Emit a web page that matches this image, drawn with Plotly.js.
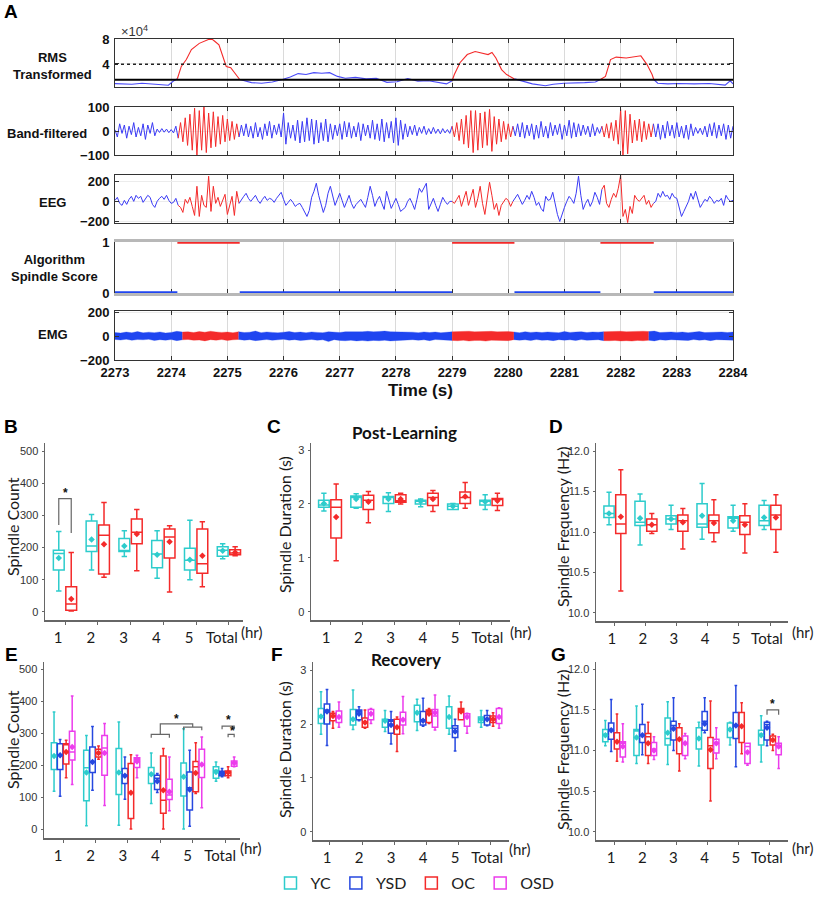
<!DOCTYPE html>
<html><head><meta charset="utf-8">
<script src="https://cdn.plot.ly/plotly-3.0.1.min.js"></script>
<style>html,body{margin:0;padding:0;background:#fff}#chart{width:818px;height:900px}</style>
</head><body><div id="chart"></div>
<script>
// ================= PANEL A DATA =================
const timeTicks = [2273,2274,2275,2276,2277,2278,2279,2280,2281,2282,2283,2284];
const spindleStart = [2274.11, 2279.00, 2281.64];
const spindleEnd   = [2275.22, 2280.11, 2282.59];

// RMS transformed (x10^4)
const rmsTime = [2273.00,2273.30,2273.48,2273.76,2273.95,2274.04,2274.11,2274.18,2274.27,2274.36,2274.50,2274.64,2274.71,2274.78,2274.85,2274.92,2274.98,2275.06,2275.15,2275.22,
 2275.34,2275.43,2275.61,2275.80,2275.98,2276.12,2276.26,2276.40,2276.54,2276.68,2276.82,2276.96,2277.10,2277.28,2277.47,2277.65,2277.84,2278.02,2278.21,2278.39,2278.58,2278.76,2278.90,2279.00,
 2279.04,2279.14,2279.27,2279.41,2279.55,2279.64,2279.71,2279.78,2279.88,2279.97,2280.11,
 2280.25,2280.43,2280.66,2280.80,2280.99,2281.17,2281.36,2281.55,2281.64,
 2281.73,2281.82,2281.92,2282.10,2282.24,2282.36,2282.47,2282.56,2282.59,
 2282.66,2282.84,2283.03,2283.31,2283.58,2283.86,2283.95,2284.00];
const rmsValue = [0.84,0.74,0.89,0.68,0.58,1.26,1.63,3.6,4.7,6.3,7.3,7.85,8.1,7.6,7.05,5.2,3.6,3.4,2.3,1.5,
 1.2,1.0,0.9,1.1,1.5,1.9,2.45,2.3,2.6,2.5,2.6,2.0,1.7,1.85,1.6,1.7,1.05,1.15,1.65,1.25,1.3,1.05,0.8,1.3,
 2.3,4.2,5.5,6.0,5.75,5.5,5.85,4.95,3.1,2.3,1.6,
 1.2,0.8,0.5,0.75,0.9,0.9,1.0,1.1,1.5,
 2.0,4.7,5.1,4.95,5.1,5.3,3.9,2.3,1.5,
 0.9,0.8,0.85,0.8,0.85,0.6,1.3,0.8];
const rmsThresholdUpper = 3.95;
const rmsThresholdLower = 1.45;

// Band-filtered signal (uV), sampled every 1/24 s
const bandStart = 2273, bandStep = 1/24;
const bandValues = [
 5,-25,30,-10,25,-30,20,-15,35,-25,15,-20,30,-35,25,-10,35,-20,8,-6,10,-5,8,-7,6,-8,
 20,-30,35,-45,55,-60,70,-80,95,-100,85,-80,100,-90,75,-70,80,-65,60,-55,65,-45,50,-40,40,-35,30,-25,
 25,-20,30,-25,20,-30,35,-25,15,-35,30,-20,40,-30,25,-15,30,-25,
 75,-55,35,-30,25,-40,45,-50,40,-45,55,-40,50,-55,45,-50,35,-40,50,-45,30,-35,
 25,-20,30,-35,40,-25,35,-30,20,-25,35,-40,30,-20,25,-30,45,-35,30,-40,
 50,-45,35,-30,40,-50,55,-60,45,-35,30,-25,20,-15,25,-20,15,-10,20,-15,10,-12,15,-10,8,-12,10,-8,6,-10,
 20,-25,35,-40,50,-55,65,-70,85,-90,85,-80,75,-70,80,-60,90,-85,60,-55,50,-45,40,-35,30,-25,20,
 -20,30,-25,35,-30,25,-20,30,-35,25,-30,40,-25,20,-30,35,-20,25,-15,30,-35,25,-20,45,-30,35,-25,30,-20,25,-15,20,-25,30,-20,15,-10,
 20,-25,30,-30,35,-40,45,-55,90,-100,85,-95,70,-50,45,-40,50,-45,40,-35,30,-25,30,
 -25,30,-35,25,-30,40,-20,25,-30,35,-25,20,-30,25,-35,30,-20,15,-10,12,-15,20,-25,30,-20,35,-30,25,-20,30,-35,25,-30,20];

// Raw EEG (uV), sampled every 1/24 s
const eegStart = 2273, eegStep = 1/24;
const eegValues = [
 10,40,-20,-40,10,-30,20,50,0,60,30,50,-10,20,60,40,-30,-60,0,30,50,20,60,10,-20,
 -10,30,-40,-60,-110,20,-20,40,-50,-140,150,-150,60,-40,-60,250,-100,150,-20,40,-50,10,70,-130,-40,50,-140,100,-20,
 20,50,80,30,0,30,60,10,-20,20, 50,10,30,20,-10,30,60,90,20,-40, -10,20,-10,-50,-30,-20,-60,-100,-150,-90,
 40,100,180,60,-30,-110,-40,80,150,60, -40,20,80,10,-60,0,60,-20,-70,-30, 0,20,-20,-60,40,150,60,-50,10,50,
 -20,-80,100,20,-70,-20,30,-30,-100,-80, -60,0,30,-20,-80,20,130,90,140,180, -80,-20,30,-40,-100,-30,40,0,-30,0,
 0,-20,20,60,-50,20,100,-40,40,120,-60,30,150,-20,-130,60,190,60,-80,-20,-140,-40,0,30,10,-50,0,
 30,70,20,-30,10,60,20,100,40,-40,-10,-70,-100,50,10,20,90,-20,-130,-200,-120,-60,0,50,20,-20,80,250,60,-80,-20,20,-50,0,90,40,-30,
 120,160,-20,-60,20,80,40,130,260,-150,-80,-210,-50,-120,60,20,0,30,60,-30,10,-60,-20,
 0,80,40,100,50,60,20,80,40,30,-60,-150,-100,-50,0,80,20,100,30,-60,-20,20,0,50,20,-20,10,0,30,-40,60,20,0,10];

// EMG envelope (uV), every 0.1 s
const emgStart = 2273, emgStep = 0.1;
const emgUpper = [30,26,34,28,38,27,33,29,35,26, 31,40,34,36,30,38,33,41,35,31, 34,28,37,30,33,42,29,35,31,27,
 33,38,30,34,28,35,31,29,37,33, 30,37,36,41,37,40,36,39,42,37, 36,39,35,33,29,35,30,34,28,33,
 36,39,37,41,36,38,37,40,36,39, 38,35,28,37,31,34,30,35,33,29, 38,31,34,37,30,35,33,37,39,36,
 40,37,39,36,41,38,42,30,33,35, 31,34,29,33,38,30,33,31,35,30, 34];
const emgLower = [-28,-33,-26,-35,-29,-31,-27,-37,-30,-34, -29,-38,-31,-28,-35,-33,-40,-30,-34,-29,
 -37,-31,-28,-34,-30,-38,-33,-29,-35,-31, -27,-34,-30,-37,-33,-28,-35,-31,-46,-30,
 -36,-39,-35,-40,-37,-42,-36,-39,-35,-40, -38,-36,-33,-30,-35,-31,-38,-29,-34,-33,
 -36,-39,-35,-41,-37,-36,-42,-35,-39,-36, -38,-30,-34,-31,-37,-29,-35,-33,-38,-30,
 -34,-31,-37,-29,-35,-33,-30,-38,-39,-36, -41,-38,-42,-36,-39,-35,-40,-31,-34,-30,
 -35,-33,-37,-29,-34,-31,-38,-30,-35,-33, -34];

// ================= BOX PLOT DATA =================
const hourLabels = ['1','2','3','4','5','Total'];

// B: Spindle count, post-learning
const countPostYC = {lower:[65,130,172,105,100,165], q1:[130,188,188,137,130,173], median:[182,205,190,180,161,192], q3:[192,283,228,222,198,203], upper:[250,303,252,252,285,212], mean:[168,225,205,178,162,190]};
const countPostOC = {lower:[3,108,128,62,78,175], q1:[5,118,212,168,120,178], median:[25,238,248,233,150,183], q3:[78,270,289,258,258,193], upper:[185,340,318,268,280,203], mean:[40,210,242,218,175,185]};
// C: Spindle duration, post-learning
const durPostYC = {lower:[1.87,1.92,1.86,1.95,1.9,1.9], q1:[1.94,1.94,2.01,2.0,1.9,1.98], median:[1.98,2.12,2.12,2.05,1.96,2.06], q3:[2.07,2.15,2.14,2.07,2.0,2.07], upper:[2.2,2.19,2.21,2.09,2.01,2.17], mean:[2.01,2.09,2.09,2.05,1.96,2.04]};
const durPostOC = {lower:[0.95,1.65,2.0,1.86,1.92,1.88], q1:[1.37,1.9,2.03,1.97,2.01,1.97], median:[1.94,2.07,2.06,2.12,2.12,2.09], q3:[2.08,2.16,2.17,2.2,2.22,2.1], upper:[2.37,2.23,2.2,2.25,2.4,2.2], mean:[1.76,2.04,2.09,2.09,2.14,2.06]};
// D: Spindle frequency, post-learning
const freqPostYC = {lower:[11.09,10.84,11.03,10.91,11.01,11.03], q1:[11.18,11.08,11.1,11.06,11.05,11.08], median:[11.23,11.12,11.16,11.1,11.17,11.14], q3:[11.32,11.38,11.2,11.35,11.19,11.33], upper:[11.49,11.47,11.33,11.6,11.33,11.39], mean:[11.23,11.17,11.16,11.2,11.14,11.18]};
const freqPostOC = {lower:[10.27,10.98,10.79,10.88,10.74,10.75], q1:[10.98,11.01,11.01,10.99,10.97,11.03], median:[11.1,11.09,11.14,11.14,11.12,11.21], q3:[11.46,11.16,11.21,11.21,11.2,11.33], upper:[11.77,11.23,11.29,11.4,11.35,11.46], mean:[11.19,11.09,11.12,11.11,11.09,11.18]};
// E: Spindle count, recovery
const countRecYC  = {lower:[119,11,13,81,1,150], q1:[187,89,109,143,104,159], median:[229,192,177,172,164,184], q3:[270,247,252,193,207,195], upper:[366,293,335,238,314,210], mean:[229,177,177,172,164,179]};
const countRecYSD = {lower:[103,122,94,115,10,164], q1:[187,177,143,124,60,167], median:[233,212,169,159,130,177], q3:[267,257,190,169,179,181], upper:[280,321,226,174,247,190], mean:[231,210,167,150,124,174]};
const countRecOC  = {lower:[161,219,1,1,112,161], q1:[204,226,34,50,117,167], median:[264,238,114,91,195,177], q3:[267,250,205,229,212,182], upper:[278,260,233,252,270,195], mean:[241,238,114,122,176,177]};
const countRecOSD = {lower:[140,74,161,58,67,195], q1:[216,169,193,93,162,197], median:[241,254,219,107,200,205], q3:[306,293,223,156,250,213], upper:[416,330,231,226,288,226], mean:[257,238,212,117,202,207]};
// F: Spindle duration, recovery
const durRecYC  = {lower:[1.81,1.9,1.86,1.88,1.81,1.94], q1:[2.01,1.98,1.94,2.04,1.92,2.03], median:[2.14,2.09,2.06,2.21,2.13,2.09], q3:[2.29,2.27,2.09,2.35,2.32,2.13], upper:[2.6,2.63,2.25,2.46,2.52,2.25], mean:[2.14,2.09,2.06,2.21,2.13,2.09]};
const durRecYSD = {lower:[1.6,2.06,1.63,1.96,1.5,1.97], q1:[2.0,2.08,1.83,1.98,1.75,1.98], median:[2.26,2.23,2.05,2.08,1.92,2.09], q3:[2.37,2.26,2.08,2.23,1.97,2.16], upper:[2.64,2.32,2.23,2.48,2.09,2.25], mean:[2.23,2.19,1.98,2.06,1.86,2.09]};
const durRecOC  = {lower:[1.92,1.92,1.49,2.01,2.08,1.96], q1:[2.06,1.94,1.81,2.03,2.08,2.03], median:[2.15,2.03,1.94,2.23,2.27,2.09], q3:[2.2,2.11,2.09,2.26,2.29,2.15], upper:[2.23,2.26,2.13,2.29,2.41,2.21], mean:[2.15,2.03,1.94,2.19,2.23,2.09]};
const durRecOSD = {lower:[1.94,2.01,1.82,1.89,1.83,1.92], q1:[2.03,2.08,1.98,1.94,1.96,2.01], median:[2.13,2.2,2.08,2.15,2.13,2.13], q3:[2.24,2.27,2.22,2.27,2.19,2.29], upper:[2.41,2.29,2.51,2.54,2.2,2.3], mean:[2.13,2.19,2.08,2.21,2.13,2.13]};
// G: Spindle frequency, recovery
const freqRecYC  = {lower:[11.06,10.84,10.83,10.81,11.07,10.86], q1:[11.11,10.94,11.07,11.02,11.16,11.07], median:[11.2,11.24,11.15,11.15,11.26,11.2], q3:[11.26,11.26,11.4,11.28,11.34,11.25], upper:[11.37,11.55,11.6,11.35,11.35,11.43], mean:[11.19,11.16,11.22,11.15,11.26,11.19]};
const freqRecYSD = {lower:[10.99,10.95,11.0,11.22,10.8,11.06], q1:[11.14,11.1,11.13,11.25,11.15,11.13], median:[11.26,11.19,11.31,11.36,11.31,11.32], q3:[11.34,11.32,11.36,11.48,11.47,11.35], upper:[11.63,11.57,11.65,11.65,11.8,11.36], mean:[11.25,11.19,11.27,11.33,11.31,11.28]};
const freqRecOC  = {lower:[10.87,10.84,10.75,10.38,10.96,11.0], q1:[11.02,10.94,10.96,10.78,11.1,11.07], median:[11.11,11.17,11.14,11.06,11.3,11.13], q3:[11.22,11.21,11.28,11.16,11.47,11.18], upper:[11.45,11.35,11.33,11.61,11.59,11.2], mean:[11.11,11.09,11.14,11.01,11.3,11.13]};
const freqRecOSD = {lower:[10.86,10.89,10.9,10.9,10.82,10.78], q1:[10.92,10.94,10.94,10.97,10.84,10.95], median:[11.09,11.02,11.09,11.09,11.05,11.06], q3:[11.11,11.1,11.18,11.14,11.09,11.09], upper:[11.33,11.17,11.21,11.28,11.09,11.17], mean:[11.05,11.0,11.09,11.09,10.98,11.05]};

// ================= BUILD =================
const W = 818, H = 900;
const fx = p => p / W;
const fy = p => 1 - p / H;
const dom = (top, bottom) => [1 - bottom / H, 1 - top / H];
const RED = '#f42a2a', BLUE = '#3a3af5', BLUE2 = '#1f45f0';
const groupColors = {YC:'#2dcccc', YSD:'#2648e0', OC:'#f42a2a', OSD:'#ec3cec'};
const A_FONT = 'Liberation Sans, Arial, sans-serif';
const traces = [];

const inSpindle = t => spindleStart.some((s, k) => t >= s - 1e-6 && t <= spindleEnd[k] + 1e-6);
function segments(n, timeAt) {
  const segs = []; let cur = null;
  for (let i = 0; i < n; i++) {
    const red = inSpindle(timeAt(i));
    if (!cur || cur.red !== red) {
      if (cur && red) cur.end = i;
      const start = (cur && !red) ? i - 1 : i;
      cur = {red, start, end: i};
      segs.push(cur);
    } else cur.end = i;
  }
  return segs;
}
function addSignal(times, values, xa, ya, width, blue) {
  segments(values.length, i => times[i]).forEach(s => traces.push({
    type:'scatter', mode:'lines', x: times.slice(s.start, s.end + 1), y: values.slice(s.start, s.end + 1),
    xaxis:xa, yaxis:ya, line:{color: s.red ? RED : blue, width}, showlegend:false, hoverinfo:'skip'}));
}
const bandTime = bandValues.map((_, i) => bandStart + i * bandStep);
const eegTime = eegValues.map((_, i) => eegStart + i * eegStep);
const emgTime = emgUpper.map((_, i) => emgStart + i * emgStep);

addSignal(rmsTime, rmsValue, 'x', 'y', 1.1, '#4a4af8');
addSignal(bandTime, bandValues, 'x2', 'y2', 1, BLUE);
addSignal(eegTime, eegValues, 'x3', 'y3', 1, BLUE);

// algorithm score
const offX = [], offY = [], onX = [], onY = [];
let prevEnd = timeTicks[0];
spindleStart.forEach((s, k) => {
  offX.push(prevEnd, s, null); offY.push(0, 0, null);
  onX.push(s, spindleEnd[k], null); onY.push(1, 1, null);
  prevEnd = spindleEnd[k];
});
offX.push(prevEnd, timeTicks[timeTicks.length - 1]); offY.push(0, 0);
traces.push({type:'scatter', mode:'lines', x:offX, y:offY, xaxis:'x4', yaxis:'y4', line:{color:BLUE2, width:3.5}, showlegend:false, hoverinfo:'skip', cliponaxis:false});
traces.push({type:'scatter', mode:'lines', x:onX, y:onY, xaxis:'x4', yaxis:'y4', line:{color:RED, width:3.5}, showlegend:false, hoverinfo:'skip', cliponaxis:false});

// EMG band
segments(emgUpper.length, i => emgTime[i]).forEach(s => {
  const xs = emgTime.slice(s.start, s.end + 1);
  const up = emgUpper.slice(s.start, s.end + 1);
  const lo = emgLower.slice(s.start, s.end + 1);
  const c = s.red ? RED : BLUE2;
  traces.push({type:'scatter', mode:'lines', x: xs.concat(xs.slice().reverse()), y: up.concat(lo.slice().reverse()),
    fill:'toself', fillcolor:c, line:{color:c, width:0.3}, xaxis:'x5', yaxis:'y5', showlegend:false, hoverinfo:'skip'});
});

// box panels
function offsets(n) { return n === 2 ? [-0.19, 0.19] : [-0.28, -0.093, 0.093, 0.28]; }
function addBoxes(stats, groups, xa, ya, legend) {
  const offs = offsets(groups.length);
  const bw = groups.length === 2 ? 0.33 : 0.17;
  groups.forEach((g, gi) => {
    const s = stats[gi];
    const pos = hourLabels.map((_, k) => k + 1 + offs[gi]);
    traces.push({type:'box', x:pos, q1:s.q1, median:s.median, q3:s.q3, lowerfence:s.lower, upperfence:s.upper,
      width:bw, boxpoints:false, line:{color:groupColors[g], width:1.5}, fillcolor:'rgba(255,255,255,0)',
      name:g, legendgroup:g, showlegend:legend, xaxis:xa, yaxis:ya, hoverinfo:'skip'});
    traces.push({type:'scatter', mode:'markers', x:pos, y:s.mean, marker:{symbol:'diamond', size:5, color:groupColors[g]},
      xaxis:xa, yaxis:ya, showlegend:false, hoverinfo:'skip'});
  });
}
addBoxes([countPostYC, countPostOC], ['YC','OC'], 'x6', 'y6', false);
addBoxes([durPostYC, durPostOC], ['YC','OC'], 'x7', 'y7', false);
addBoxes([freqPostYC, freqPostOC], ['YC','OC'], 'x8', 'y8', false);
addBoxes([countRecYC, countRecYSD, countRecOC, countRecOSD], ['YC','YSD','OC','OSD'], 'x9', 'y9', true);
addBoxes([durRecYC, durRecYSD, durRecOC, durRecOSD], ['YC','YSD','OC','OSD'], 'x10', 'y10', false);
addBoxes([freqRecYC, freqRecYSD, freqRecOC, freqRecOSD], ['YC','YSD','OC','OSD'], 'x11', 'y11', false);

// ---------- axes ----------
function aX(anchor, labels) {
  return {domain:[fx(115), fx(733)], range:[timeTicks[0], timeTicks[timeTicks.length - 1]], type:'linear', tickvals:timeTicks,
    showgrid:true, gridcolor:'#dadada', gridwidth:1, ticks:'inside', ticklen:4, tickcolor:'#333', showline:true, mirror:'ticks',
    linecolor:'#333', linewidth:1, zeroline:false, showticklabels:labels, anchor,
    tickfont:{family:A_FONT, size:13, color:'#111', weight:'bold'}, fixedrange:true};
}
function aY(top, bottom, range, tickvals, anchor) {
  return {domain:dom(top, bottom), range, tickvals, ticks:'inside', ticklen:4, tickcolor:'#333', showline:true, mirror:'ticks',
    linecolor:'#333', linewidth:1, showgrid:true, gridcolor:'#ececec', zeroline:false, anchor, ticklabelstandoff:2,
    tickfont:{family:A_FONT, size:13, color:'#111', weight:'bold'}, fixedrange:true};
}
function catX(l, r, range, anchor, shift) {
  return {domain:[fx(l), fx(r)], range, type:'linear', tickvals:[1,2,3,4,5,6], ticktext:hourLabels, ticks:'outside', ticklen:3,
    tickcolor:'#666', showline:true, linecolor:'#666', linewidth:1.5, showgrid:false, zeroline:false,
    tickfont:{family:'Lato', size:15, color:'#1a1a1a'}, ticklabelshift:shift, anchor, fixedrange:true};
}
function valY(top, bottom, range, tickvals, ticktext, anchor) {
  const ax = {domain:dom(top, bottom), range, tickvals, ticks:'outside', ticklen:2, tickcolor:'#666', showline:true,
    linecolor:'#666', linewidth:1.5, showgrid:false, zeroline:false, anchor, ticklabelstandoff:1,
    tickfont:{family:'Liberation Sans', size:11, color:'#333'}, fixedrange:true};
  if (ticktext) ax.ticktext = ticktext;
  return ax;
}
const countTicks = [0,100,200,300,400,500];
const durTicks = [0,1,2,3];
const freqTicks = [10,10.5,11,11.5,12];
const freqText = ['10.0','10.5','11.0','11.5','12.0'];

const layout = {
  width:W, height:H, margin:{l:0, r:0, t:0, b:0}, paper_bgcolor:'#fff', plot_bgcolor:'#fff',
  font:{family:'Liberation Sans', color:'#222'}, boxmode:'overlay', hovermode:false,
  showlegend:true,
  legend:{orientation:'h', x:fx(415), xanchor:'center', y:fy(883), yanchor:'middle',
    font:{family:'Lato', size:16, color:'#222'}, itemwidth:30, bgcolor:'rgba(0,0,0,0)'},
  xaxis: aX('y', false), yaxis: aY(39, 87, [0.3, 8], [4, 8], 'x'),
  xaxis2: aX('y2', false), yaxis2: aY(107, 155, [-100, 100], [-100, 0, 100], 'x2'),
  xaxis3: aX('y3', false), yaxis3: aY(175, 223, [-215, 262], [-200, 0, 200], 'x3'),
  xaxis4: Object.assign(aX('y4', false), {linecolor:'#b8b8b8', linewidth:3, layer:'below traces', mirror:true}),
  yaxis4: aY(242, 293, [0, 1], [0, 1], 'x4'),
  xaxis5: aX('y5', true), yaxis5: aY(311, 360, [-200, 210], [-200, 0, 200], 'x5'),
  xaxis6: catX(45, 243, [0.39, 6.43], 'y6', -7), yaxis6: valY(443, 620, [-25, 525], countTicks, null, 'x6'),
  xaxis7: catX(311, 510, [0.41, 6.58], 'y7', -4), yaxis7: valY(443, 620, [-0.15, 3.13], durTicks, null, 'x7'),
  xaxis8: catX(596, 788, [0.39, 6.58], 'y8', -3), yaxis8: valY(443, 621, [9.9, 12.1], freqTicks, freqText, 'x8'),
  xaxis9: catX(44, 240, [0.41, 6.46], 'y9', -5), yaxis9: valY(662, 838, [-27, 522], countTicks, null, 'x9'),
  xaxis10: catX(313, 509, [0.47, 6.59], 'y10', -3), yaxis10: valY(662, 840, [-0.15, 3.15], durTicks, null, 'x10'),
  xaxis11: catX(596, 788, [0.42, 6.58], 'y11', -3), yaxis11: valY(662, 840, [9.9, 12.09], freqTicks, freqText, 'x11'),
  shapes: [], annotations: []
};

// RMS thresholds
layout.shapes.push({type:'line', xref:'x', yref:'y', x0:timeTicks[0], x1:timeTicks[timeTicks.length-1], y0:rmsThresholdUpper, y1:rmsThresholdUpper, line:{color:'#222', width:1.3, dash:'dot'}});
layout.shapes.push({type:'line', xref:'x', yref:'y', x0:timeTicks[0], x1:timeTicks[timeTicks.length-1], y0:rmsThresholdLower, y1:rmsThresholdLower, line:{color:'#000', width:2}});

// annotations helper
function txt(text, x, y, font, extra) {
  layout.annotations.push(Object.assign({text, xref:'paper', yref:'paper', x:fx(x), y:fy(y), xanchor:'center', yanchor:'middle', showarrow:false, font}, extra || {}));
}
const letterFont = {family:'Liberation Sans', size:19, color:'#000', weight:'bold'};
[['A',11,12],['B',11,426],['C',274,426],['D',556,426],['E',11,654],['F',277,654],['G',558,654]].forEach(a => txt(a[0], a[1], a[2], letterFont));
const aLab = {family:A_FONT, size:13, color:'#111', weight:'bold'};
txt('RMS<br>Transformed', 53, 66, aLab);
txt('Band-filtered', 47, 134, aLab);
txt('EEG', 52, 203, aLab);
txt('Algorithm<br>Spindle Score', 54, 268, aLab);
txt('EMG', 53, 334, aLab);
txt('×10<sup>4</sup>', 134, 31, {family:'Liberation Sans', size:13, color:'#333'});
txt('Time (s)', 420, 391, {family:A_FONT, size:17, color:'#111', weight:'bold'});
const titleFont = {family:'Lato', size:17, color:'#111', weight:'bold'};
txt('Post-Learning', 404, 432, titleFont);
txt('Recovery', 406, 659, titleFont);
const yTitleFont = {family:'Lato', size:16, color:'#1a1a1a'};
txt('Spindle Count', 12, 527, yTitleFont, {textangle:-90});
txt('Spindle Duration (s)', 284, 525, yTitleFont, {textangle:-90});
txt('Spindle Frequency (Hz)', 562, 527, yTitleFont, {textangle:-90});
txt('Spindle Count', 12, 740, yTitleFont, {textangle:-90});
txt('Spindle Duration (s)', 284, 750, yTitleFont, {textangle:-90});
txt('Spindle Frequency (Hz)', 562, 750, yTitleFont, {textangle:-90});
const hrFont = {family:'Lato', size:15, color:'#1a1a1a'};
[[252,632],[521,632],[803,632],[251,848],[520,849],[803,848]].forEach(p => txt('(hr)', p[0], p[1], hrFont));

// significance brackets
function bracket(xa, ya, x1, x2, top, leg1, leg2) {
  layout.shapes.push({type:'path', xref:xa, yref:ya, path:`M ${x1},${leg1} L ${x1},${top} L ${x2},${top} L ${x2},${leg2}`, line:{color:'#666', width:1.2}});
}
function star(xa, ya, x, y) {
  layout.annotations.push({text:'*', xref:xa, yref:ya, x, y, showarrow:false, xanchor:'center', yanchor:'middle', font:{family:'Liberation Sans', size:12, color:'#111', weight:'bold'}});
}
const o2 = offsets(2), o4 = offsets(4);
bracket('x6', 'y6', 1 + o2[0], 1 + o2[1], 352, 270, 245); star('x6', 'y6', 1, 370);
bracket('x9', 'y9', 4 + o4[0], 4 + o4[3], 296, 286, 286);
bracket('x9', 'y9', 5 + o4[0], 5 + o4[3], 319, 309, 309);
bracket('x9', 'y9', 4, 5, 329, 296, 319); star('x9', 'y9', 4.5, 344);
bracket('x9', 'y9', 6 + o4[1], 6 + o4[3], 322, 312, 312); star('x9', 'y9', 6 + (o4[1] + o4[3]) / 2, 342);
bracket('x9', 'y9', 6 + o4[2], 6 + o4[3], 296, 287, 287); star('x9', 'y9', 6 + (o4[2] + o4[3]) / 2 + 0.03, 306);
bracket('x11', 'y11', 6 + o4[1], 6 + o4[3], 11.5, 11.44, 11.44); star('x11', 'y11', 6 + (o4[1] + o4[3]) / 2, 11.57);

Plotly.newPlot('chart', traces, layout, {displayModeBar:false, staticPlot:true});
</script></body></html>
